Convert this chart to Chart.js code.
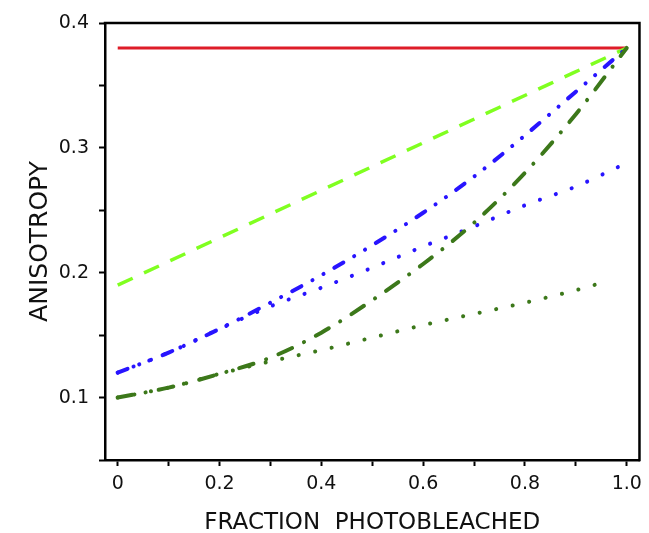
<!DOCTYPE html>
<html>
<head>
<meta charset="utf-8">
<script src="https://cdn.jsdelivr.net/npm/chart.js@4.4.1/dist/chart.umd.min.js"></script>
<style>
  html, body { margin: 0; padding: 0; background: #fff; }
  #wrap { width: 649px; height: 533px; position: relative; }
</style>
</head>
<body>
<div id="wrap"><canvas id="c" width="649" height="533"></canvas></div>
<script>
// ---- data ----
const fracX = [0, 0.1, 0.2, 0.3, 0.4, 0.5, 0.6, 0.7, 0.8, 0.9, 1.0];
const redX = [0, 1.0];
const redY = [0.38, 0.38];
const lightGreenX = [0, 1.0];
const lightGreenY = [0.19, 0.38];
const blueDashDotY = [0.120, 0.136, 0.155, 0.176, 0.198, 0.222, 0.248, 0.277, 0.310, 0.345, 0.380];
const blueDotX = [0, 0.1, 0.2, 0.3, 0.4, 0.5, 0.6, 0.7, 0.8, 0.9, 0.985];
const blueDotY = [0.120, 0.136, 0.155, 0.173, 0.188, 0.204, 0.221, 0.237, 0.254, 0.269, 0.285];
const greenDashDotY = [0.100, 0.108, 0.119, 0.132, 0.152, 0.178, 0.207, 0.240, 0.280, 0.327, 0.380];
const greenDotX = [0, 0.1, 0.2, 0.3, 0.4, 0.5, 0.6, 0.7, 0.8, 0.9, 0.96];
const greenDotY = [0.100, 0.108, 0.119, 0.129, 0.138, 0.148, 0.158, 0.167, 0.176, 0.186, 0.193];
const xTickLabels = ['0', '0.2', '0.4', '0.6', '0.8', '1.0'];
const yTickLabels = ['0.1', '0.2', '0.3', '0.4'];
const xTitle = 'FRACTION  PHOTOBLEACHED';
const yTitle = 'ANISOTROPY';

function pts(xs, ys) { return xs.map((x, i) => ({ x: x, y: ys[i] })); }

const FONT = 'DejaVu Sans';

const framePlugin = {
  id: 'frame',
  beforeDatasetsDraw(chart) {
    const a = chart.chartArea, ctx = chart.ctx;
    ctx.save();
    ctx.strokeStyle = '#000';
    ctx.lineWidth = 2.5;
    ctx.beginPath();
    ctx.moveTo(a.left - 1.25, a.top);
    ctx.lineTo(a.right, a.top);
    ctx.lineTo(a.right, a.bottom + 1.25);
    ctx.stroke();
    ctx.restore();
  }
};

const common = { pointRadius: 0, pointHoverRadius: 0, fill: false, cubicInterpolationMode: 'monotone' };

new Chart(document.getElementById('c'), {
  type: 'line',
  data: {
    datasets: [
      Object.assign({}, common, { label: 'green dash-dot', data: pts(fracX, greenDashDotY), borderColor: 'rgb(60,120,26)', borderWidth: 4, borderDash: [15, 13.3, 0.1, 13.3], borderCapStyle: 'round', order: 1 }),
      Object.assign({}, common, { label: 'green dotted', data: pts(greenDotX, greenDotY), borderColor: 'rgb(60,120,26)', borderWidth: 4, borderDash: [0.1, 16.8], borderCapStyle: 'round', order: 2 }),
      Object.assign({}, common, { label: 'blue dash-dot-dot', data: pts(fracX, blueDashDotY), borderColor: 'rgb(40,20,255)', borderWidth: 4, borderDash: [10.5, 12.5, 0.1, 12.5, 0.1, 12.5], borderCapStyle: 'round', order: 3 }),
      Object.assign({}, common, { label: 'blue dotted', data: pts(blueDotX, blueDotY), borderColor: 'rgb(40,20,255)', borderWidth: 4, borderDash: [0.1, 16.8], borderCapStyle: 'round', order: 4 }),
      Object.assign({}, common, { label: 'light green dashed', data: pts(lightGreenX, lightGreenY), borderColor: 'rgb(128,255,32)', borderWidth: 3.5, borderDash: [16.5, 12.5], borderCapStyle: 'butt', order: 5 }),
      Object.assign({}, common, { label: 'red', data: pts(redX, redY), borderColor: 'rgb(222,28,40)', borderWidth: 3, order: 6 })
    ]
  },
  options: {
    responsive: false,
    animation: false,
    events: [],
    layout: { padding: { top: 23, right: 6, left: 0, bottom: 0 } },
    plugins: { legend: { display: false }, tooltip: { enabled: false } },
    scales: {
      x: {
        type: 'linear',
        min: -0.025,
        max: 1.025,
        afterFit(s) { s.height = 73; },
        border: { display: true, color: '#000', width: 2.5 },
        grid: { drawOnChartArea: false, drawTicks: true, tickLength: 6, tickWidth: 2, tickColor: '#000' },
        ticks: {
          stepSize: 0.1,
          includeBounds: false,
          autoSkip: false,
          maxRotation: 0,
          padding: 7,
          color: '#111',
          font: { family: FONT, size: 19 },
          callback(v) {
            const k = Math.round(v * 10);
            if (Math.abs(v * 10 - k) > 1e-6) return '';
            if (k % 2 !== 0) return '';
            return xTickLabels[k / 2];
          }
        },
        title: { display: true, text: xTitle, color: '#111', font: { family: FONT, size: 23, lineHeight: 0.85 }, padding: { top: 0, bottom: 0 } }
      },
      y: {
        type: 'linear',
        min: 0.05,
        max: 0.4,
        afterFit(s) { s.width = 105; },
        border: { display: true, color: '#000', width: 2.5 },
        grid: { drawOnChartArea: false, drawTicks: true, tickLength: 6, tickWidth: 2, tickColor: '#000' },
        ticks: {
          stepSize: 0.05,
          autoSkip: false,
          padding: 10,
          color: '#111',
          font: { family: FONT, size: 19 },
          callback(v) {
            const k = Math.round(v * 20);
            if (Math.abs(v * 20 - k) > 1e-6) return '';
            if (k % 2 !== 0) return '';
            return yTickLabels[k / 2 - 1];
          }
        },
        title: { display: true, text: yTitle, color: '#111', font: { family: FONT, size: 25, lineHeight: 1 }, padding: { top: 28, bottom: 0 } }
      }
    }
  },
  plugins: [framePlugin]
});
</script>
</body>
</html>
